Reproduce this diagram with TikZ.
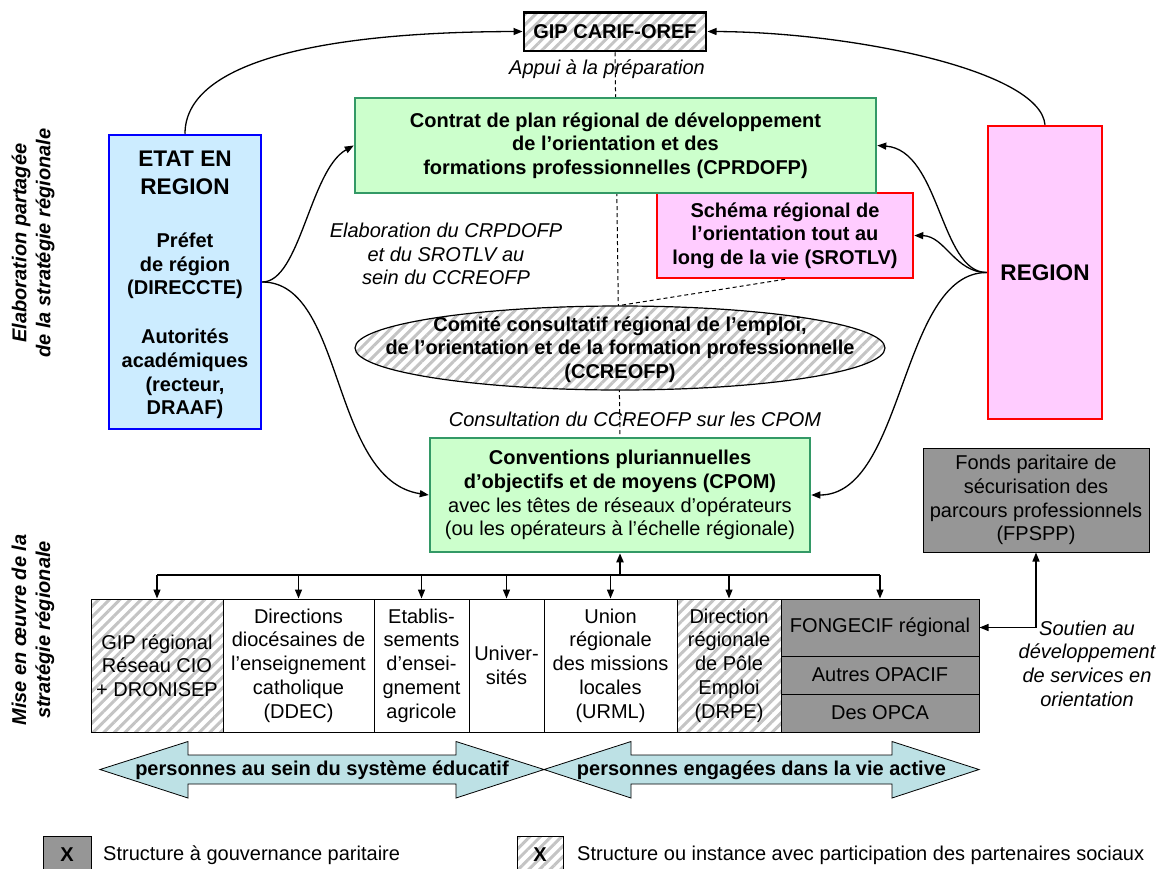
\documentclass[tikz,border=0pt]{standalone}
\usepackage{fontspec}
\setmainfont{Liberation Sans}
\usetikzlibrary{arrows.meta,patterns.meta,shapes.geometric,backgrounds}
\definecolor{etatfill}{HTML}{CCECFF}
\definecolor{greenfill}{HTML}{CCFFCC}
\definecolor{greenline}{HTML}{339966}
\definecolor{pinkfill}{HTML}{FFCCFF}
\definecolor{grayfill}{HTML}{969696}
\definecolor{hatchgray}{HTML}{C4C4C4}
\definecolor{arrowfill}{HTML}{BDE1E5}
\begin{document}
\begin{tikzpicture}[x=1pt,y=-1pt,
  txt/.style={font=\fontsize{20}{23.7}\selectfont, align=center, inner sep=0pt},
  btxt/.style={txt, font=\fontsize{20}{23.7}\selectfont\bfseries},
  itxt/.style={txt, font=\fontsize{20}{23.7}\selectfont\itshape},
  bigtxt/.style={txt, font=\fontsize{22.6}{28}\selectfont\bfseries},
  vtxt/.style={txt, font=\fontsize{20}{24}\selectfont\bfseries\itshape, rotate=90},
  hatch/.style={preaction={fill=white}, pattern={Lines[angle=45,distance=7.5pt,line width=3pt]}, pattern color=hatchgray},
  thickframe/.style={draw=#1, line width=2.5pt},
  thinframe/.style={draw, line width=1pt},
  cell/.style={txt, thinframe, minimum height=133pt},
  graycell/.style={txt, thinframe, fill=grayfill, minimum width=198pt},
  conn/.style={line width=1.3pt, -{Triangle[length=9pt,width=7pt]}},
  dashline/.style={line width=1pt, dash pattern=on 4pt off 3pt},
  bigarrow/.style={draw, line width=0.8pt, fill=arrowfill},
]
\useasboundingbox (0,0) rectangle (1161,868);

% vertical side labels
\node[vtxt] (lab1) at (33,243) {Elaboration partagée\\de la stratégie régionale};
\node[vtxt] (lab2) at (33,630) {Mise en œuvre de la\\stratégie régionale};

% ETAT EN REGION
\node[thickframe=blue, fill=etatfill, minimum width=152pt, minimum height=294pt, inner sep=0pt] (etat) at (185,282) {};
\node[bigtxt] (etatT) at (185,173) {ETAT EN\\REGION};
\node[btxt] (etatP) at (185,266) {Préfet\\de région\\(DIRECCTE)};
\node[btxt] (etatA) at (185,374) {Autorités\\académiques\\(recteur,\\DRAAF)};

% GIP CARIF-OREF
\node[btxt, thickframe=black, hatch, minimum width=182pt, minimum height=38.5pt] (gip) at (615,31.5) {GIP CARIF-OREF};

% SROTLV
\node[btxt, thickframe=red, fill=pinkfill, minimum width=256pt, minimum height=85pt] (srot) at (785,235.5) {Schéma régional de\\l’orientation tout au\\long de la vie (SROTLV)};

% CPRDOFP
\node[btxt, thickframe=greenline, fill=greenfill, minimum width=521pt, minimum height=95pt] (cprd) at (615.5,145.5) {Contrat de plan régional de développement\\de l’orientation et des\\formations professionnelles (CPRDOFP)};

% REGION
\node[bigtxt, thickframe=red, fill=pinkfill, minimum width=114pt, minimum height=293pt] (region) at (1045,272.5) {REGION};

% CCREOFP
\node[draw, line width=1.2pt, hatch, ellipse, minimum width=530pt, minimum height=84pt, inner sep=0pt] (ccre) at (620,348) {};
\node[btxt] (ccreT) at (620,349.5) {Comité consultatif régional de l’emploi,\\de l’orientation et de la formation professionnelle\\(CCREOFP)};

% CPOM
\node[txt, thickframe=greenline, fill=greenfill, minimum width=380pt, minimum height=114pt] (cpom) at (620,495) {\textbf{Conventions pluriannuelles}\\\textbf{d’objectifs et de moyens (CPOM)}\\avec les têtes de réseaux d’opérateurs\\(ou les opérateurs à l’échelle régionale)};

% FPSPP
\node[txt, thinframe, fill=grayfill, minimum width=226pt, minimum height=104pt] (fpspp) at (1036,500) {Fonds paritaire de\\sécurisation des\\parcours professionnels\\(FPSPP)};

% bottom row
\node[cell, hatch, minimum width=132pt] (c1) at (157,665.5) {GIP régional\\Réseau CIO\\+ DRONISEP};
\node[cell, minimum width=151pt] (c2) at (298.5,665.5) {Directions\\diocésaines de\\l’enseignement\\catholique\\(DDEC)};
\node[cell, minimum width=95pt] (c3) at (421.5,665.5) {Etablis-\\sements\\d’ensei-\\gnement\\agricole};
\node[cell, minimum width=75pt] (c4) at (506.5,665.5) {Univer-\\sités};
\node[cell, minimum width=133pt] (c5) at (610.5,665.5) {Union\\régionale\\des missions\\locales\\(URML)};
\node[cell, hatch, minimum width=104pt] (c6) at (729,665.5) {Direction\\régionale\\de Pôle\\Emploi\\(DRPE)};
\node[graycell, minimum height=57pt] (g1) at (880,627.5) {FONGECIF régional};
\node[graycell, minimum height=38pt] (g2) at (880,675) {Autres OPACIF};
\node[graycell, minimum height=38pt] (g3) at (880,713) {Des OPCA};

% dashed links behind
\begin{pgfonlayer}{background}
\draw[dashline] (gip.south) -- (cpom.north);
\draw[dashline] (srot.south) -- (ccre.north);
\end{pgfonlayer}

% italic labels
\node[itxt] (appui) at (607,69) {Appui à la préparation};
\node[itxt] (elab) at (446,254) {Elaboration du CRPDOFP\\et du SROTLV au\\sein du CCREOFP};
\node[itxt] (consult) at (635,419) {Consultation du CCREOFP sur les CPOM};
\node[itxt] (soutien) at (1087,663.5) {Soutien au\\développement\\de services en\\orientation};

% curved connectors
\draw[conn] (etat.north) .. controls (185,65) and (310,32) .. (gip.west);
\draw[conn] (region.north) .. controls (1040,70) and (850,32) .. (gip.east);
\draw[conn] (etat.east) .. controls (300,282) and (310,170) .. (cprd.west);
\draw[conn] (etat.east) .. controls (345,282) and (330,480) .. (cpom.west);
\draw[conn] (region.west) .. controls (940,272.5) and (940,150) .. (cprd.east);
\draw[conn] (region.west) .. controls (955,272.5) and (945,236) .. (srot.east);
\draw[conn] (region.west) .. controls (900,272.5) and (905,495) .. (cpom.east);

% distribution bus
\coordinate (bus) at (620,575);
\draw[line width=1.3pt] (c1.north |- bus) -- (g1.north |- bus);
\foreach \c in {c1,c2,c3,c4,c5,c6,g1} {\draw[conn] (\c.north |- bus) -- (\c.north);}
\draw[conn, line width=2pt] (bus) -- (cpom.south);
\draw[line width=1.3pt, {Triangle[length=9pt,width=7pt]}-{Triangle[length=9pt,width=7pt]}] (fpspp.south) |- (g1.east);

% big double arrows
\draw[bigarrow] (100,769.5) -- (188,741.5) -- (188,755) -- (456,755) -- (456,741.5) -- (544,769.5) -- (456,798) -- (456,784) -- (188,784) -- (188,798) -- cycle;
\draw[bigarrow] (544,769.5) -- (631,741.5) -- (631,755) -- (892,755) -- (892,741.5) -- (979,769.5) -- (892,798) -- (892,784) -- (631,784) -- (631,798) -- cycle;
\node[btxt] (edu) at (322,770) {personnes au sein du système éducatif};
\node[btxt] (act) at (761.5,770) {personnes engagées dans la vie active};

% legend
\node[btxt, thinframe, fill=grayfill, minimum width=48pt, minimum height=38pt] (leg1) at (67,855) {X};
\node[txt, anchor=west] (leg1t) at (103,855) {Structure à gouvernance paritaire};
\node[btxt, thinframe, hatch, minimum width=46pt, minimum height=38pt] (leg2) at (540,855) {X};
\node[txt, anchor=west] (leg2t) at (577,855) {Structure ou instance avec participation des partenaires sociaux};
\end{tikzpicture}
\end{document}
